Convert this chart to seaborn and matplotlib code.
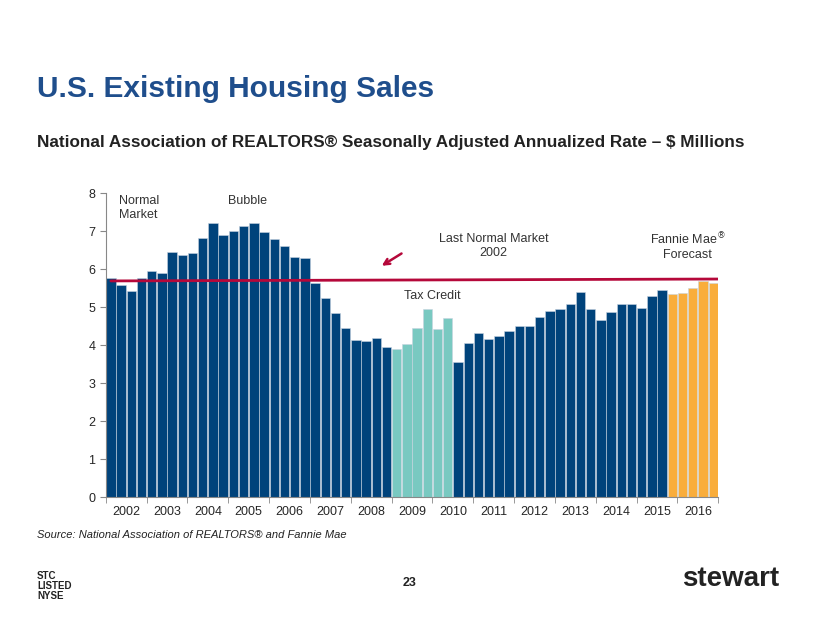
import matplotlib
matplotlib.use('Agg')
import matplotlib.pyplot as plt
import seaborn as sns
import pandas as pd

years = list(range(2002, 2017))
sales = [5.78, 5.59, 5.43, 5.78, 5.95, 5.89, 6.46, 6.38, 6.43, 6.82, 7.22, 6.91,
         7.00, 7.13, 7.22, 6.99, 6.79, 6.60, 6.31, 6.29, 5.64, 5.23, 4.84, 4.45,
         4.13, 4.11, 4.20, 3.94,
         3.91, 4.03, 4.45, 4.95, 4.42, 4.72,
         3.56, 4.05, 4.33, 4.15, 4.25, 4.37, 4.50, 4.50, 4.73, 4.89, 4.95, 5.07,
         5.41, 4.95, 4.67, 4.88, 5.07, 5.07, 4.97, 5.29, 5.46,
         5.34, 5.36, 5.50, 5.68, 5.64]
kind = ['actual'] * 28 + ['tax'] * 6 + ['actual'] * 21 + ['forecast'] * 5
normal_line = [5.69, 5.74]

colors = {'actual': '#00437B', 'tax': '#79C9C1', 'forecast': '#F9AD3B'}
df = pd.DataFrame({'q': range(len(sales)), 'sales': sales, 'kind': kind})

sns.set_style('white')
plt.rcParams['font.family'] = ['Liberation Sans', 'DejaVu Sans']
fig = plt.figure(figsize=(8.2, 6.27), dpi=100)
ax = fig.add_axes([0.129, 0.207, 0.747, 0.485])
sns.barplot(data=df, x='q', y='sales', hue='kind', palette=colors, dodge=False, saturation=1,
            width=0.92, legend=False, ax=ax, edgecolor='#c8d4e0', linewidth=0.4)
n = len(sales)
ax.plot([0, n - 0.5], normal_line, color='#B5083A', lw=2)
ax.set_xlim(-0.5, n - 0.5)
ax.set_ylim(0, 8)
ax.set_yticks(range(9))
ax.set_xticks([4 * i + 1.5 for i in range(len(years))])
ax.set_xticklabels([str(y) for y in years])
ax.set_xticks([4 * i - 0.5 for i in range(len(years) + 1)], minor=True)
ax.tick_params(axis='x', which='major', length=0, labelsize=9, pad=6)
ax.tick_params(axis='x', which='minor', length=4, color='#888888', bottom=True)
ax.tick_params(axis='y', length=4, color='#888888', left=True, labelsize=9)
ax.set_xlabel('')
ax.set_ylabel('')
for s in ['top', 'right']:
    ax.spines[s].set_visible(False)
for s in ['left', 'bottom']:
    ax.spines[s].set_color('#888888')

txt = dict(fontsize=9, color='#333333')
ax.text(0.8, 7.95, 'Normal\nMarket', va='top', **txt)
ax.text(11.5, 7.95, 'Bubble', va='top', **txt)
ax.text(37.5, 6.6, 'Last Normal Market\n2002', ha='center', va='center', linespacing=1.2, **txt)
ax.text(56.5, 6.6, 'Fannie Mae$^{\\circledR}$\nForecast', ha='center', va='center', linespacing=1.2, **txt)
ax.text(31.5, 5.3, 'Tax Credit', ha='center', va='center', **txt)
ax.annotate('', xy=(26.3, 6.05), xytext=(28.7, 6.45),
            arrowprops=dict(arrowstyle='->', color='#B5083A', lw=1.8))

fig.text(0.045, 0.845, 'U.S. Existing Housing Sales', fontsize=21.5, fontweight='bold', color='#1F4E8C')
fig.text(0.045, 0.765, 'National Association of REALTORS\u00ae Seasonally Adjusted Annualized Rate \u2013 $ Millions',
         fontsize=12.3, fontweight='bold', color='#222222')
fig.text(0.045, 0.142, 'Source: National Association of REALTORS\u00ae and Fannie Mae',
         fontsize=8, style='italic', color='#222222')
fig.text(0.5, 0.065, '23', fontsize=9, fontweight='bold', ha='center', color='#222222')
fig.text(0.045, 0.045, 'STC\nLISTED\nNYSE', fontsize=7, fontweight='bold', color='#222222', linespacing=1.0)
fig.text(0.95, 0.065, 'stewart', fontsize=20, fontweight='bold', ha='right', color='#222222')

fig.savefig('out.png', dpi=100)
